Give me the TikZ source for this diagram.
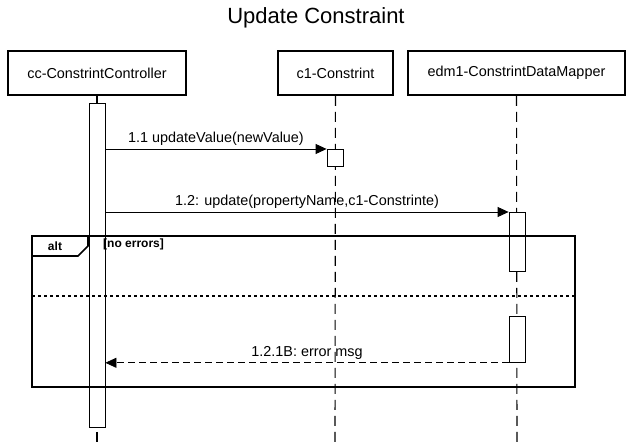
\documentclass[tikz,border=0pt]{standalone}
\usepackage{fontspec}
\setmainfont{Liberation Sans}
\usetikzlibrary{positioning,arrows.meta}

\begin{document}
\begin{tikzpicture}
  [x=1pt,y=-1pt,every node/.style={font=\fontsize{14.4}{17}\selectfont},
   lifebox/.style={draw=black,line width=1.6pt,minimum height=44pt,inner sep=0pt},
   actbar/.style={draw=black,fill=white,line width=.8pt,minimum width=16pt,inner sep=0pt,anchor=north},
   lifeline/.style={line width=1.1pt,dash pattern=on 10pt off 6pt},
   msg/.style={line width=.8pt,-{Triangle[length=11pt,width=10pt]}},
   reply/.style={msg,dash pattern=on 7pt off 4pt},
   frame/.style={line width=1.6pt},
   tag/.style={font=\fontsize{12}{14}\selectfont\bfseries}]
  \useasboundingbox (0,0) rectangle (633,443);
  \node[font=\fontsize{22}{26}\selectfont] (title) at (316,18) {Update Constraint};
  \node[lifebox,minimum width=178pt] (cc) at (97,73) {cc-ConstrintController};
  \node[lifebox,minimum width=115pt] (c1) at (335.5,73) {c1-Constrint};
  \node[lifebox,minimum width=217pt] (edm1) at (516.5,73) {edm1-ConstrintDataMapper};
  \coordinate (ccend) at (97,443);
  \coordinate (c1end) at (335,443);
  \coordinate (edm1end) at (517,443);

  \draw[lifeline] (cc) -- (ccend);
  \draw[lifeline] (c1) -- (c1end);
  \draw[lifeline] (edm1) -- (edm1end);

  \node[actbar,minimum height=324pt] (a1) at (97,103) {};
  \node[actbar,minimum height=17pt] (a2) at (335,149) {};
  \node[actbar,minimum height=59pt] (a3) at (517,212) {};
  \node[actbar,minimum height=46pt] (a4) at (517,316) {};

  \draw[msg] (a1.east |- a2.north) -- node[above] {1.1 updateValue(newValue)} (a2.north west);
  \draw[msg] (a1.east |- a3.north) -- node[above] {1.2: update(propertyName,c1-Constrinte)} (a3.north west);
  \draw[reply] (a4.south west) -- node[above] {1.2.1B: error msg} (a1.east |- a4.south);

  \draw[frame] (32,236) rectangle (575,387);
  \draw[frame] (32,256) -- (78,256) -- (88,246) -- (88,236);
  \draw[frame,dash pattern=on 3pt off 3pt] (32,296) -- (575,296);
  \node[tag] (alt) at (55,246) {alt};
  \node[tag,anchor=west,inner sep=0pt] (cond) at (103,244) {[no errors]};
\end{tikzpicture}
\end{document}
